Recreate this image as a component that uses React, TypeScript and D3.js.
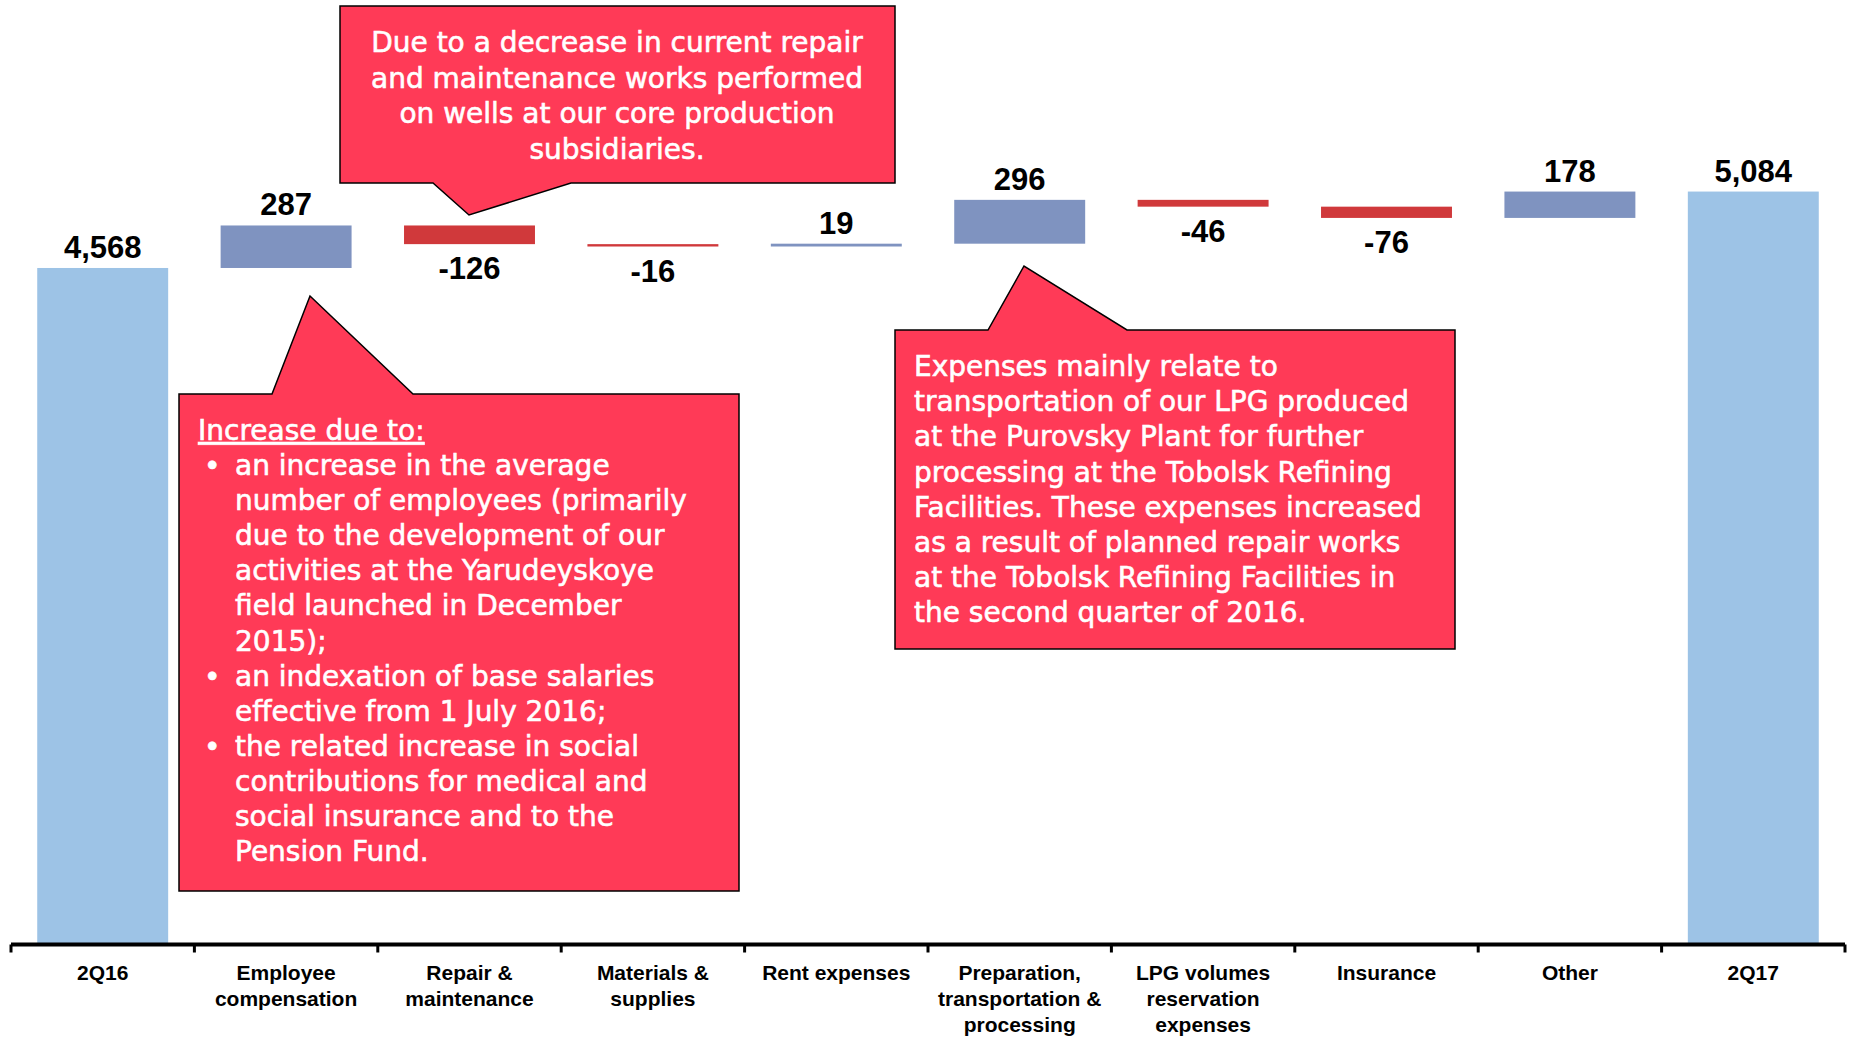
import React from "react";
import * as d3 from "d3";

const categories = [
  "2Q16",
  "Employee compensation",
  "Repair & maintenance",
  "Materials & supplies",
  "Rent expenses",
  "Preparation, transportation & processing",
  "LPG volumes reservation expenses",
  "Insurance",
  "Other",
  "2Q17",
];
const categoryLines = [
  ["2Q16"],
  ["Employee", "compensation"],
  ["Repair &", "maintenance"],
  ["Materials &", "supplies"],
  ["Rent expenses"],
  ["Preparation,", "transportation &", "processing"],
  ["LPG volumes", "reservation", "expenses"],
  ["Insurance"],
  ["Other"],
  ["2Q17"],
];
const values = [4568, 287, -126, -16, 19, 296, -46, -76, 178, 5084];
const isTotal = [true, false, false, false, false, false, false, false, false, true];
const valueLabels = ["4,568", "287", "-126", "-16", "19", "296", "-46", "-76", "178", "5,084"];

const calloutTopLines = [
  "Due to a decrease in current repair",
  "and maintenance works performed",
  "on wells at our core production",
  "subsidiaries.",
];
const calloutLeftHeading = "Increase due to:";
const calloutLeftLines: [boolean, string][] = [
  [true, "an increase in the average"],
  [false, "number of employees (primarily"],
  [false, "due to the development of our"],
  [false, "activities at the Yarudeyskoye"],
  [false, "field launched in December"],
  [false, "2015);"],
  [true, "an indexation of base salaries"],
  [false, "effective from 1 July 2016;"],
  [true, "the related increase in social"],
  [false, "contributions for medical and"],
  [false, "social insurance and to the"],
  [false, "Pension Fund."],
];
const calloutRightLines = [
  "Expenses mainly relate to",
  "transportation of our LPG produced",
  "at the Purovsky Plant for further",
  "processing at the Tobolsk Refining",
  "Facilities. These expenses increased",
  "as a result of planned repair works",
  "at the Tobolsk Refining Facilities in",
  "the second quarter of 2016.",
];

const W = 1849;
const H = 1037;
const COLORS = { total: "#9DC3E6", up: "#7F93C0", down: "#D0393B", callout: "#FF3A57" };
const CALLOUT_FONT = "'DejaVu Sans', sans-serif";
const LABEL_FONT = "'Liberation Sans', Arial, sans-serif";

function calloutPath(x0: number, y0: number, x1: number, y1: number, bl: number, tx: number, ty: number, br: number, side: "top" | "bottom") {
  if (side === "bottom") {
    return `M${x0},${y0}L${x1},${y0}L${x1},${y1}L${br},${y1}L${tx},${ty}L${bl},${y1}L${x0},${y1}Z`;
  }
  return `M${x0},${y0}L${bl},${y0}L${tx},${ty}L${br},${y0}L${x1},${y0}L${x1},${y1}L${x0},${y1}Z`;
}

const calloutText = { fontFamily: CALLOUT_FONT, fontSize: 28, fill: "#fff", stroke: "#fff", strokeWidth: 0.6 };

export default function App() {
  const x = d3.scaleBand<string>().domain(categories).range([11, 1845]).paddingInner(0.286).paddingOuter(0.143);
  const axisY = 944.5;
  const y = d3.scaleLinear().domain([0, 5000]).range([axisY, axisY - 5000 * 0.1481]);
  const step = x.step();

  let running = 0;
  const bars = categories.map((c, i) => {
    const v = values[i];
    let lo: number, hi: number;
    if (isTotal[i]) {
      lo = 0;
      hi = v;
      running = v;
    } else {
      const start = running;
      running = start + v;
      lo = Math.min(start, running);
      hi = Math.max(start, running);
    }
    const color = isTotal[i] ? COLORS.total : v >= 0 ? COLORS.up : COLORS.down;
    return { c, i, v, lo, hi, color };
  });

  const ticks = d3.range(categories.length + 1).map((k) =>
    k < categories.length
      ? (x(categories[k]) as number) - (step * x.paddingInner()) / 2
      : (x(categories[k - 1]) as number) + x.bandwidth() + (step * x.paddingInner()) / 2
  );

  return (
    <svg width={W} height={H} style={{ position: "absolute", left: 0, top: 0, display: "block", background: "#fff" }}>
      {bars.map((b) => (
        <rect
          key={b.c}
          x={x(b.c)}
          width={x.bandwidth()}
          y={y(b.hi)}
          height={Math.max(1.5, y(b.lo) - y(b.hi))}
          fill={b.color}
        />
      ))}
      {bars.map((b) => {
        const cx = (x(b.c) as number) + x.bandwidth() / 2;
        const ly = b.v >= 0 ? y(b.hi) - 10 : y(b.lo) + 35;
        return (
          <text key={"l" + b.c} x={cx} y={ly} textAnchor="middle" fontFamily={LABEL_FONT} fontWeight="bold" fontSize={31} fill="#000">
            {valueLabels[b.i]}
          </text>
        );
      })}
      {/* axis */}
      <line x1={ticks[0]} x2={ticks[ticks.length - 1]} y1={axisY} y2={axisY} stroke="#000" strokeWidth={4} />
      {ticks.map((t, k) => (
        <line key={"t" + k} x1={t} x2={t} y1={axisY} y2={axisY + 8} stroke="#000" strokeWidth={3} />
      ))}
      {categoryLines.map((lines, i) => {
        const cx = (x(categories[i]) as number) + x.bandwidth() / 2;
        return (
          <text key={"c" + i} textAnchor="middle" fontFamily={LABEL_FONT} fontWeight="bold" fontSize={21} fill="#000">
            {lines.map((ln, j) => (
              <tspan key={j} x={cx} y={980 + j * 26}>
                {ln}
              </tspan>
            ))}
          </text>
        );
      })}

      {/* top callout */}
      <path d={calloutPath(340, 6, 895, 183, 433, 469, 215, 571, "bottom")} fill={COLORS.callout} stroke="#000" strokeWidth={1.5} />
      <text textAnchor="middle" {...calloutText}>
        {calloutTopLines.map((ln, j) => (
          <tspan key={j} x={617} y={52 + j * 35.5}>
            {ln}
          </tspan>
        ))}
      </text>

      {/* left callout */}
      <path d={calloutPath(179, 394, 739, 891, 272, 310, 296, 413, "top")} fill={COLORS.callout} stroke="#000" strokeWidth={1.5} />
      <text x={198} y={440} {...calloutText} textDecoration="underline">
        {calloutLeftHeading}
      </text>
      {calloutLeftLines.map(([bullet, ln], j) => (
        <g key={"ll" + j}>
          {bullet && (
            <text x={204} y={475 + j * 35.1} {...calloutText}>
              •
            </text>
          )}
          <text x={235} y={475 + j * 35.1} {...calloutText}>
            {ln}
          </text>
        </g>
      ))}

      {/* right callout */}
      <path d={calloutPath(895, 330, 1455, 649, 988, 1024, 266, 1127, "top")} fill={COLORS.callout} stroke="#000" strokeWidth={1.5} />
      <text {...calloutText}>
        {calloutRightLines.map((ln, j) => (
          <tspan key={j} x={914} y={376 + j * 35.2}>
            {ln}
          </tspan>
        ))}
      </text>
    </svg>
  );
}
